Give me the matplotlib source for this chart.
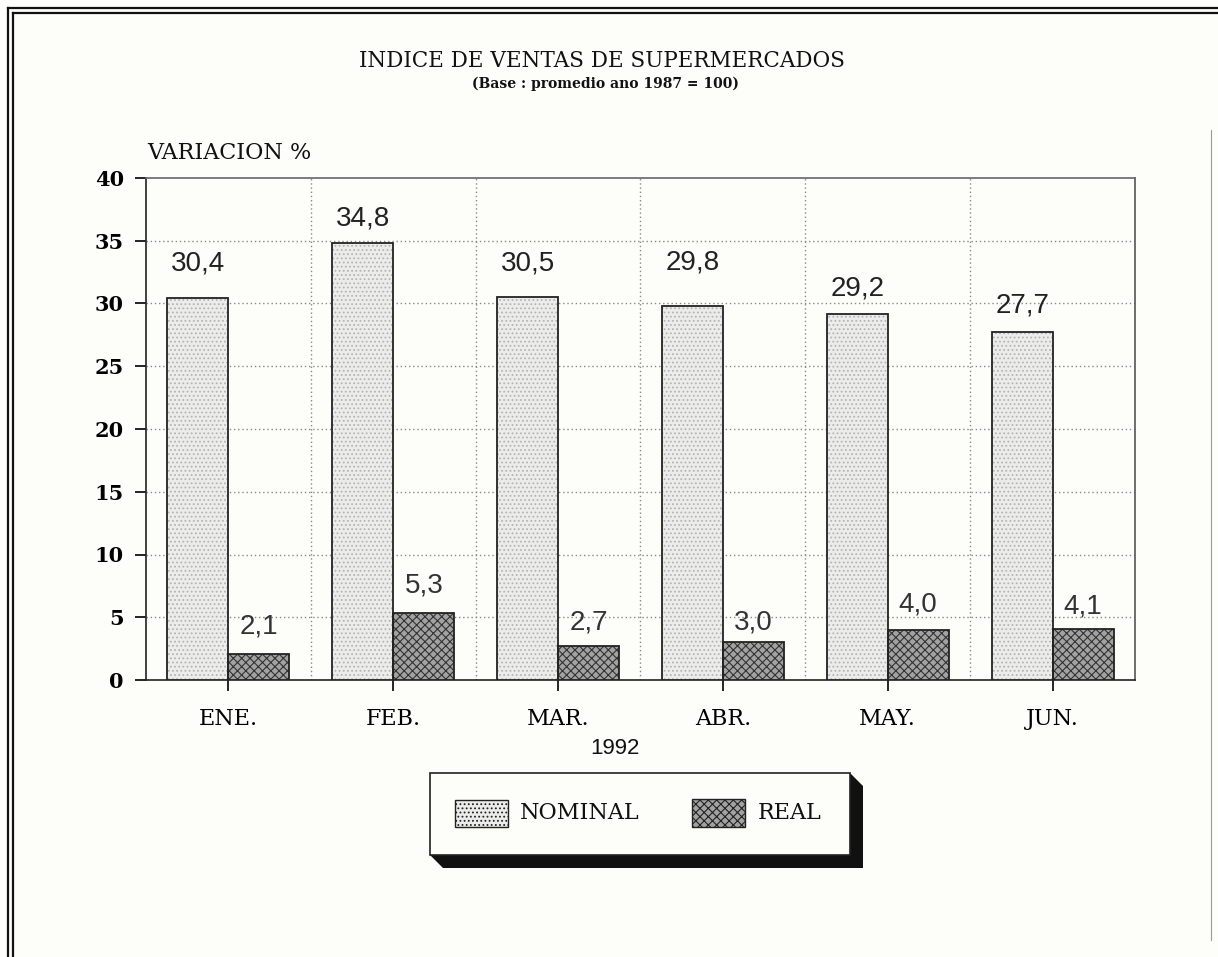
import matplotlib
matplotlib.use("Agg")
import matplotlib.pyplot as plt
import numpy as np
from matplotlib.patches import Rectangle, Polygon
from matplotlib.lines import Line2D

months = ["ENE.", "FEB.", "MAR.", "ABR.", "MAY.", "JUN."]
nominal = [30.4, 34.8, 30.5, 29.8, 29.2, 27.7]
real = [2.1, 5.3, 2.7, 3.0, 4.0, 4.1]
nominal_labels = ["30,4", "34,8", "30,5", "29,8", "29,2", "27,7"]
real_labels = ["2,1", "5,3", "2,7", "3,0", "4,0", "4,1"]
yticks = [0, 5, 10, 15, 20, 25, 30, 35, 40]

# label offsets (pixels above bar top), styling only
nom_off = [35, 25, 34, 44, 25, 27]
real_off = [27, 28, 24, 20, 25, 22]

W, H = 1218, 957
fig = plt.figure(figsize=(W / 100, H / 100), dpi=100)
bg = "#fdfdf9"
fig.patch.set_facecolor(bg)

SERIF = ["DejaVu Serif"]
SANS = ["Liberation Sans", "DejaVu Sans"]

ax_l, ax_r, ax_t, ax_b = 146, 1135, 178, 680
ax = fig.add_axes([ax_l / W, 1 - ax_b / H, (ax_r - ax_l) / W, (ax_b - ax_t) / H])
ax.set_facecolor(bg)

x = np.arange(len(months))
bw = 0.37
plt.rcParams['hatch.linewidth'] = 0.8
b1 = ax.bar(x - bw / 2, nominal, width=bw, facecolor="#ececea", edgecolor="#b4b4b4",
            hatch="....", linewidth=0, zorder=3)
for r in b1:
    ax.add_patch(Rectangle((r.get_x(), 0), r.get_width(), r.get_height(), fill=False,
                           edgecolor="#222222", linewidth=1.3, zorder=4))
b2 = ax.bar(x + bw / 2, real, width=bw, facecolor="#a2a2a2", edgecolor="#333333",
            hatch="xxxx", linewidth=0, zorder=3)
for r in b2:
    ax.add_patch(Rectangle((r.get_x(), 0), r.get_width(), r.get_height(), fill=False,
                           edgecolor="#222222", linewidth=1.3, zorder=4))

for i in range(len(months)):
    ax.annotate(nominal_labels[i], (x[i] - bw / 2, nominal[i]), xytext=(0, nom_off[i] * 0.72),
                textcoords="offset points", ha="center", va="center",
                fontsize=20, family=SANS, color="#222222", zorder=5)
    ax.annotate(real_labels[i], (x[i] + bw / 2, real[i]), xytext=(0, real_off[i] * 0.72),
                textcoords="offset points", ha="center", va="center",
                fontsize=20, family=SANS, color="#333333", zorder=5)

ax.set_xlim(-0.5, len(months) - 0.5)
ax.set_ylim(0, 40)
ax.set_yticks(yticks)
ax.set_yticklabels([str(v) for v in yticks], fontsize=15, family=SERIF, fontweight="bold")
ax.set_xticks(x)
ax.set_xticklabels(months, fontsize=16, family=SERIF)
ax.tick_params(axis="x", length=8, width=1.2, direction="out", pad=12)
ax.tick_params(axis="y", length=8, width=1.2, direction="out", pad=8)

# grid
for v in yticks[1:-1]:
    ax.axhline(v, color="#888888", linestyle=(0, (1, 2)), linewidth=1, zorder=1)
for b in np.arange(0.5, len(months) - 0.5, 1.0):
    ax.axvline(b, color="#888888", linestyle=(0, (1, 2)), linewidth=1, zorder=1)

for s in ax.spines.values():
    s.set_color("#222222")
    s.set_linewidth(1.2)
ax.spines["top"].set_color("#666666")
ax.spines["right"].set_color("#555555")

# titles
fig.text(602 / W, 1 - 61 / H, "INDICE DE VENTAS DE SUPERMERCADOS", ha="center", va="center",
         fontsize=15.5, family=SERIF, color="#111111")
fig.text(605 / W, 1 - 84 / H, "(Base : promedio ano 1987 = 100)", ha="center", va="center",
         fontsize=10, family=SERIF, fontweight="bold", color="#111111")
fig.text(147 / W, 1 - 153 / H, "VARIACION %", ha="left", va="center",
         fontsize=16, family=SERIF, color="#111111")
fig.text(615 / W, 1 - 748 / H, "1992", ha="center", va="center",
         fontsize=16, family=SANS, color="#111111")

# legend box with shadow
lx0, ly0, lx1, ly1 = 430, 773, 850, 855
sh = 13
shadow = [(lx0, ly1), (lx0 + sh, ly1 + sh), (lx1 + sh, ly1 + sh), (lx1 + sh, ly0 + sh), (lx1, ly0)]
fig.patches.append(Polygon([(px / W, 1 - py / H) for px, py in shadow], closed=True,
                           transform=fig.transFigure, facecolor="#111111", edgecolor="none"))
fig.patches.append(Rectangle((lx0 / W, 1 - ly1 / H), (lx1 - lx0) / W, (ly1 - ly0) / H,
                             transform=fig.transFigure, facecolor=bg, edgecolor="#222222", linewidth=1.2))
fig.patches.append(Rectangle((455 / W, 1 - 827 / H), 53 / W, 27 / H, transform=fig.transFigure,
                             facecolor="#ececea", edgecolor="#222222", hatch="....", linewidth=1.0))
fig.patches.append(Rectangle((692 / W, 1 - 827 / H), 53 / W, 28 / H, transform=fig.transFigure,
                             facecolor="#a2a2a2", edgecolor="#222222", hatch="xxxx", linewidth=1.0))
fig.text(520 / W, 1 - 813 / H, "NOMINAL", ha="left", va="center", fontsize=16, family=SERIF, color="#111111")
fig.text(758 / W, 1 - 813 / H, "REAL", ha="left", va="center", fontsize=16, family=SERIF, color="#111111")

# double frame
for off in (8, 13):
    fig.add_artist(Line2D([off / W, off / W], [0, 1 - off / H], transform=fig.transFigure,
                          color="#111111", linewidth=1.6))
    fig.add_artist(Line2D([off / W, 1], [1 - off / H, 1 - off / H],
                          transform=fig.transFigure, color="#111111", linewidth=1.6))
fig.add_artist(Line2D([1 - 7 / W, 1 - 7 / W], [1 - 940 / H, 1 - 130 / H], transform=fig.transFigure,
                      color="#999999", linewidth=0.8))

fig.savefig("out.png", dpi=100, facecolor=bg)
